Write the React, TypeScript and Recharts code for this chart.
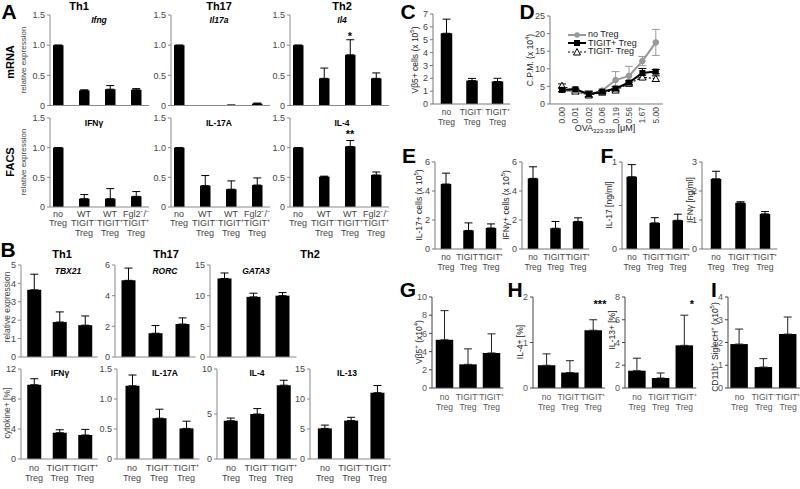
import React from "react";
import { BarChart, Bar, XAxis, YAxis, ErrorBar, LineChart, Line } from "recharts";

const FONT = "'Liberation Sans', Arial, sans-serif";

// categories
const catsA = ["no\nTreg", "WT\nTIGIT⁻\nTreg", "WT\nTIGIT⁺\nTreg", "Fgl2⁻/⁻\nTIGIT⁺\nTreg"];
const catsT = ["no\nTreg", "TIGIT⁻\nTreg", "TIGIT⁺\nTreg"];

// A - mRNA
const ifngMrna = [1.0, 0.25, 0.27, 0.26];
const ifngMrnaErr = [0, 0.01, 0.06, 0.02];
const il17aMrna = [1.0, 0.0, 0.005, 0.03];
const il17aMrnaErr = [0, 0, 0.003, 0.01];
const il4Mrna = [1.0, 0.45, 0.84, 0.45];
const il4MrnaErr = [0, 0.17, 0.25, 0.09];
// A - FACS
const ifngFacs = [1.0, 0.14, 0.14, 0.18];
const ifngFacsErr = [0, 0.07, 0.17, 0.08];
const il17aFacs = [1.0, 0.36, 0.3, 0.37];
const il17aFacsErr = [0, 0.17, 0.14, 0.12];
const il4Facs = [1.0, 0.51, 1.02, 0.54];
const il4FacsErr = [0, 0.01, 0.1, 0.05];

// B - transcription factors
const tbx21 = [3.65, 1.9, 1.73];
const tbx21Err = [0.85, 0.55, 0.5];
const rorc = [5.0, 1.55, 2.15];
const rorcErr = [0.8, 0.5, 0.4];
const gata3 = [12.8, 9.8, 10.0];
const gata3Err = [0.9, 0.6, 0.5];
// B - cytokine+ %
const ifngPct = [9.9, 3.5, 3.2];
const ifngPctErr = [0.8, 0.4, 0.75];
const il17aPct = [1.22, 0.68, 0.51];
const il17aPctErr = [0.18, 0.15, 0.12];
const il4Pct = [4.25, 5.0, 8.2];
const il4PctErr = [0.3, 0.6, 0.55];
const il13Pct = [5.1, 6.4, 11.05];
const il13PctErr = [0.55, 0.55, 1.2];

// C
const vb5Cells = [5.5, 1.82, 1.75];
const vb5CellsErr = [1.1, 0.17, 0.25];

// D
const ovaDoses = ["0.00", "0.01", "0.02", "0.06", "0.19", "0.56", "1.67", "5.00"];
const cpmNoTreg = [4.0, 3.5, 2.8, 3.8, 6.8, 8.0, 12.2, 17.5];
const cpmNoTregErr = [0.6, 0.6, 1.0, 0.4, 2.4, 2.7, 1.3, 3.7];
const cpmTigitPos = [4.0, 4.2, 2.8, 3.5, 4.4, 6.1, 8.8, 9.2];
const cpmTigitPosErr = [0.5, 0.3, 0.8, 0.3, 0.5, 0.5, 1.3, 0.6];
const cpmTigitNeg = [5.2, 3.6, 2.5, 3.3, 3.9, 5.8, 7.6, 7.2];
const cpmTigitNegErr = [0.5, 0.4, 0.5, 0.3, 0.4, 0.4, 0.6, 0.8];

// E
const il17Cells = [4.48, 1.28, 1.45];
const il17CellsErr = [0.75, 0.52, 0.28];
const ifngCells = [4.87, 1.43, 1.9];
const ifngCellsErr = [0.8, 0.47, 0.25];
// F
const il17Conc = [0.83, 0.3, 0.33];
const il17ConcErr = [0.14, 0.06, 0.07];
const ifngConc = [2.42, 1.59, 1.21];
const ifngConcErr = [0.26, 0.04, 0.08];
// G, H, I
const vb5Lung = [5.3, 2.6, 3.85];
const vb5LungErr = [3.2, 1.7, 2.1];
const il4Lung = [0.5, 0.34, 1.27];
const il4LungErr = [0.25, 0.26, 0.23];
const il13Lung = [1.52, 0.88, 3.75];
const il13LungErr = [1.1, 0.44, 2.65];
const pdcCells = [1.93, 0.92, 2.37];
const pdcCellsErr = [0.66, 0.37, 0.75];

const catTick = (dy: number, fs: number, lh: number, color: string) => (props: any) => {
  const { x, y, payload } = props;
  const lines = String(payload.value).split("\n");
  return (
    <text x={x} y={y} textAnchor="middle" fontSize={fs} fill={color} fontFamily={FONT}>
      {lines.map((l, i) => (
        <tspan key={i} x={x} dy={i === 0 ? dy : lh}>
          {l}
        </tspan>
      ))}
    </text>
  );
};

type BP = {
  cats: string[];
  vals: number[];
  errs: number[];
  ax: number;
  c1: number;
  s: number;
  top: number;
  bottom: number;
  max: number;
  ticks: number[];
  fmt?: (v: number) => string;
  labels?: boolean;
  labelDy?: number;
  barW: number;
  axisColor?: string;
  tickColor?: string;
  fs?: number;
  xfs?: number;
  errColor?: string;
};

function BarPanel(p: BP) {
  const YW = 34, MT = 6, MR = 3;
  const n = p.cats.length;
  const right = p.c1 + p.s * (n - 0.5);
  const plotW = right - p.ax;
  const padL = p.c1 - p.s / 2 - p.ax;
  const plotH = p.bottom - p.top;
  const XH = p.labels ? 40 : 7;
  const ac = p.axisColor || "#888";
  const tc = p.tickColor || "#444";
  const fs = p.fs || 9;
  const data = p.cats.map((c, i) => ({ name: c, v: p.vals[i], e: [0, p.errs[i]] }));
  return (
    <div style={{ position: "absolute", left: p.ax - YW, top: p.top - MT }}>
      <BarChart
        width={YW + plotW + MR}
        height={MT + plotH + XH}
        data={data}
        margin={{ top: MT, right: MR, left: 0, bottom: 0 }}
        barCategoryGap={0}
      >
        <XAxis
          dataKey="name"
          height={XH}
          padding={{ left: padL, right: 0 }}
          axisLine={{ stroke: ac }}
          tickLine={false}
          tickSize={0}
          tickMargin={0}
          interval={0}
          tick={p.labels ? catTick(p.labelDy || 10, p.xfs || fs, 9.8, tc) : false}
        />
        <YAxis
          type="number"
          width={YW}
          domain={[0, p.max]}
          ticks={p.ticks}
          interval={0}
          tickFormatter={p.fmt || ((v: number) => String(v))}
          axisLine={{ stroke: ac }}
          tickLine={{ stroke: ac }}
          tickSize={3}
          tickMargin={2}
          tick={{ fill: tc, fontSize: fs, fontFamily: FONT }}
        />
        <Bar dataKey="v" fill="#000" barSize={p.barW} isAnimationActive={false}>
          <ErrorBar dataKey="e" width={4} stroke={p.errColor || "#000"} strokeWidth={1} direction="y" />
        </Bar>
      </BarChart>
    </div>
  );
}

const rotTick = (props: any) => {
  const { x, y, payload } = props;
  return (
    <g transform={`translate(${x},${y})`}>
      <text transform="rotate(-90)" x={-3} y={0} dy={3} textAnchor="end" fontSize={8.5} fill="#444" fontFamily={FONT}>
        {payload.value}
      </text>
    </g>
  );
};

const circleDot = (props: any) => (
  <circle key={props.index} cx={props.cx} cy={props.cy} r={2.8} fill="#999" stroke="#999" />
);
const squareDot = (props: any) => (
  <rect key={props.index} x={props.cx - 3} y={props.cy - 3} width={6} height={6} fill="#000" />
);
const triDot = (props: any) => (
  <path
    key={props.index}
    d={`M${props.cx},${props.cy - 3.5} L${props.cx + 3.5},${props.cy + 2.8} L${props.cx - 3.5},${props.cy + 2.8} Z`}
    fill="#fff"
    stroke="#000"
    strokeWidth={1}
  />
);

function DPanel() {
  const ax = 550, top = 16, bottom = 104, s = 13.4, c1 = 562, n = ovaDoses.length;
  const YW = 34, MT = 6, MR = 3, XH = 26;
  const padL = c1 - ax, padR = 7;
  const right = c1 + s * (n - 1) + padR;
  const data = ovaDoses.map((d, i) => ({
    x: d,
    a: cpmNoTreg[i],
    ae: cpmNoTregErr[i],
    b: cpmTigitPos[i],
    be: cpmTigitPosErr[i],
    c: cpmTigitNeg[i],
    ce: cpmTigitNegErr[i],
  }));
  return (
    <div style={{ position: "absolute", left: ax - YW, top: top - MT }}>
      <LineChart
        width={YW + right - ax + MR}
        height={MT + bottom - top + XH}
        data={data}
        margin={{ top: MT, right: MR, left: 0, bottom: 0 }}
      >
        <XAxis
          dataKey="x"
          height={XH}
          padding={{ left: padL, right: padR }}
          axisLine={{ stroke: "#777" }}
          tickLine={false}
          tickSize={0}
          tickMargin={0}
          interval={0}
          tick={rotTick}
        />
        <YAxis
          type="number"
          width={YW}
          domain={[0, 25]}
          ticks={[0, 5, 10, 15, 20, 25]}
          interval={0}
          axisLine={{ stroke: "#777" }}
          tickLine={{ stroke: "#777" }}
          tickSize={3}
          tickMargin={2}
          tick={{ fill: "#444", fontSize: 9, fontFamily: FONT }}
        />
        <Line dataKey="c" stroke="#000" strokeWidth={1.2} strokeDasharray="2 2" dot={triDot} isAnimationActive={false}>
          <ErrorBar dataKey="ce" width={4} stroke="#000" strokeWidth={1} direction="y" />
        </Line>
        <Line dataKey="a" stroke="#999" strokeWidth={2} dot={circleDot} isAnimationActive={false}>
          <ErrorBar dataKey="ae" width={4} stroke="#999" strokeWidth={1} direction="y" />
        </Line>
        <Line dataKey="b" stroke="#000" strokeWidth={2} dot={squareDot} isAnimationActive={false}>
          <ErrorBar dataKey="be" width={4} stroke="#000" strokeWidth={1} direction="y" />
        </Line>
      </LineChart>
    </div>
  );
}

type TP = {
  x: number;
  y: number;
  s?: number;
  b?: boolean;
  i?: boolean;
  rot?: boolean;
  c?: string;
  children: React.ReactNode;
};

function T({ x, y, s = 9, b = false, i = false, rot = false, c = "#000", children }: TP) {
  return (
    <div
      style={{
        position: "absolute",
        left: x,
        top: y,
        transform: `translate(-50%,-50%)${rot ? " rotate(-90deg)" : ""}`,
        fontSize: s,
        fontWeight: b ? "bold" : "normal",
        fontStyle: i ? "italic" : "normal",
        color: c,
        whiteSpace: "nowrap",
        lineHeight: 1,
      }}
    >
      {children}
    </div>
  );
}

const fmt1 = (v: number) => (v === 0 ? "0" : v.toFixed(1));

function LegendD() {
  const row = (label: string, kind: number, y: number) => (
    <div
      style={{
        position: "absolute",
        left: 0,
        top: y,
        display: "flex",
        alignItems: "center",
        fontSize: 9,
        color: "#222",
        whiteSpace: "nowrap",
        width: 90,
      }}
    >
      <svg width={18} height={8} style={{ flex: "none" }}>
        {kind === 0 && <line x1={0} y1={4} x2={18} y2={4} stroke="#999" strokeWidth={2} />}
        {kind === 0 && <circle cx={9} cy={4} r={2.8} fill="#999" />}
        {kind === 1 && <line x1={0} y1={4} x2={18} y2={4} stroke="#000" strokeWidth={2} />}
        {kind === 1 && <rect x={6} y={1} width={6} height={6} fill="#000" />}
        {kind === 2 && <line x1={0} y1={4} x2={18} y2={4} stroke="#000" strokeWidth={1.2} strokeDasharray="2 2" />}
        {kind === 2 && <path d="M9,0.5 L12.5,7 L5.5,7 Z" fill="#fff" stroke="#000" />}
      </svg>
      <span style={{ marginLeft: 2, lineHeight: 1 }}>{label}</span>
    </div>
  );
  return (
    <div style={{ position: "absolute", left: 568, top: 30, width: 90, height: 26 }}>
      {row("no Treg", 0, 0)}
      {row("TIGIT+ Treg", 1, 8.5)}
      {row("TIGIT- Treg", 2, 17)}
    </div>
  );
}

export default function App() {
  const aTicks = [0, 0.5, 1, 1.5];
  const tA = { labelDy: 9.5, barW: 10.5, s: 26 };
  const tB = { barW: 14 };
  const ghi = { axisColor: "#444", tickColor: "#555", errColor: "#222", labels: true, labelDy: 12, barW: 17.5, top: 297, bottom: 388, xfs: 8.5 };
  const ef = { labels: true, labelDy: 11, barW: 10.5, top: 162, bottom: 249, axisColor: "#777", xfs: 8.5 };
  return (
    <div
      style={{
        position: "absolute",
        left: 0,
        top: 0,
        width: 800,
        height: 489,
        background: "#fff",
        overflow: "hidden",
        fontFamily: FONT,
      }}
    >
      {/* Panel A */}
      <BarPanel cats={catsA} vals={ifngMrna} errs={ifngMrnaErr} ax={50} c1={58} s={26} top={15} bottom={105.5} max={1.5} ticks={aTicks} fmt={fmt1} barW={10.5} />
      <BarPanel cats={catsA} vals={il17aMrna} errs={il17aMrnaErr} ax={171} c1={179} s={26} top={15} bottom={105.5} max={1.5} ticks={aTicks} fmt={fmt1} barW={10.5} />
      <BarPanel cats={catsA} vals={il4Mrna} errs={il4MrnaErr} ax={290} c1={298} s={26} top={15} bottom={105.5} max={1.5} ticks={aTicks} fmt={fmt1} barW={10.5} />
      <BarPanel cats={catsA} vals={ifngFacs} errs={ifngFacsErr} ax={50} c1={58} top={118} bottom={207} max={1.5} ticks={aTicks} fmt={fmt1} labels {...tA} />
      <BarPanel cats={catsA} vals={il17aFacs} errs={il17aFacsErr} ax={171} c1={179} top={118} bottom={207} max={1.5} ticks={aTicks} fmt={fmt1} labels {...tA} />
      <BarPanel cats={catsA} vals={il4Facs} errs={il4FacsErr} ax={290} c1={298} top={118} bottom={207} max={1.5} ticks={aTicks} fmt={fmt1} labels {...tA} />

      {/* Panel B */}
      <BarPanel cats={catsT} vals={tbx21} errs={tbx21Err} ax={21} c1={34} s={25.5} top={265} bottom={357} max={5} ticks={[0, 1, 2, 3, 4, 5]} {...tB} />
      <BarPanel cats={catsT} vals={rorc} errs={rorcErr} ax={115} c1={128} s={27} top={265} bottom={357} max={6} ticks={[0, 2, 4, 6]} {...tB} />
      <BarPanel cats={catsT} vals={gata3} errs={gata3Err} ax={210} c1={224} s={29} top={265} bottom={357} max={15} ticks={[0, 5, 10, 15]} {...tB} />
      <BarPanel cats={catsT} vals={ifngPct} errs={ifngPctErr} ax={21} c1={34} s={25.5} top={369} bottom={459} max={12} ticks={[0, 4, 8, 12]} labels labelDy={12} {...tB} />
      <BarPanel cats={catsT} vals={il17aPct} errs={il17aPctErr} ax={117} c1={132} s={27} top={369} bottom={459} max={1.5} ticks={aTicks} fmt={fmt1} labels labelDy={12} {...tB} />
      <BarPanel cats={catsT} vals={il4Pct} errs={il4PctErr} ax={217} c1={231} s={26.5} top={369} bottom={459} max={10} ticks={[0, 5, 10]} labels labelDy={12} {...tB} />
      <BarPanel cats={catsT} vals={il13Pct} errs={il13PctErr} ax={310} c1={325} s={26.3} top={369} bottom={459} max={15} ticks={[0, 5, 10, 15]} labels labelDy={12} {...tB} />

      {/* Panel C */}
      <BarPanel cats={catsT} vals={vb5Cells} errs={vb5CellsErr} ax={433} c1={446.5} s={25.5} top={14} bottom={104} max={7} ticks={[0, 1, 2, 3, 4, 5, 6, 7]} labels labelDy={11} barW={11.5} axisColor="#777" xfs={8.5} />

      {/* Panel D */}
      <DPanel />
      <LegendD />

      {/* Panel E, F */}
      <BarPanel cats={catsT} vals={il17Cells} errs={il17CellsErr} ax={435} c1={446} s={22.5} max={6} ticks={[0, 2, 4, 6]} {...ef} />
      <BarPanel cats={catsT} vals={ifngCells} errs={ifngCellsErr} ax={522} c1={533} s={22.5} max={6} ticks={[0, 2, 4, 6]} {...ef} />
      <BarPanel cats={catsT} vals={il17Conc} errs={il17ConcErr} ax={622} c1={632} s={23} max={1} ticks={[0, 0.5, 1]} fmt={(v: number) => (v === 0.5 ? "" : String(v))} {...ef} />
      <BarPanel cats={catsT} vals={ifngConc} errs={ifngConcErr} ax={702} c1={716} s={24.5} max={3} ticks={[0, 1, 2, 3]} {...ef} />

      {/* Panel G, H, I */}
      <BarPanel cats={catsT} vals={vb5Lung} errs={vb5LungErr} ax={432} c1={444.5} s={23.5} max={10} ticks={[0, 2, 4, 6, 8, 10]} {...ghi} />
      <BarPanel cats={catsT} vals={il4Lung} errs={il4LungErr} ax={533} c1={546.5} s={23.3} max={2} ticks={[0, 1, 2]} {...ghi} />
      <BarPanel cats={catsT} vals={il13Lung} errs={il13LungErr} ax={625} c1={637} s={23.7} max={8} ticks={[0, 2, 4, 6, 8]} {...ghi} />
      <BarPanel cats={catsT} vals={pdcCells} errs={pdcCellsErr} ax={728} c1={739.5} s={24.3} max={4} ticks={[0, 1, 2, 3, 4]} {...ghi} />

      {/* Panel letters */}
      <T x={9} y={11} s={21} b>A</T>
      <T x={8} y={249} s={21} b>B</T>
      <T x={408} y={11} s={21} b>C</T>
      <T x={527} y={11} s={21} b>D</T>
      <T x={409} y={155} s={21} b>E</T>
      <T x={607} y={155} s={21} b>F</T>
      <T x={408} y={289} s={21} b>G</T>
      <T x={515} y={289} s={21} b>H</T>
      <T x={714} y={289} s={21} b>I</T>

      {/* A texts */}
      <T x={79} y={6} s={11} b>Th1</T>
      <T x={219} y={6} s={11} b>Th17</T>
      <T x={342} y={6} s={11} b>Th2</T>
      <T x={99} y={20} s={8.5} b i>Ifng</T>
      <T x={219} y={20} s={8.5} b i>Il17a</T>
      <T x={342} y={20} s={8.5} b i>Il4</T>
      <T x={94} y={123} s={8.5} b>IFNγ</T>
      <T x={219} y={123} s={8.5} b>IL-17A</T>
      <T x={342} y={123} s={8.5} b>IL-4</T>
      <T x={10} y={62} s={11} b rot>mRNA</T>
      <T x={10} y={162} s={11} b rot>FACS</T>
      <T x={24} y={60} s={8} rot c="#444">relative expression</T>
      <T x={24} y={162} s={8} rot c="#444">relative expression</T>
      <T x={350} y={36} s={11} b>*</T>
      <T x={350} y={134} s={11} b>**</T>

      {/* B texts */}
      <T x={62} y={254} s={11} b>Th1</T>
      <T x={166} y={254} s={11} b>Th17</T>
      <T x={310} y={254} s={11} b>Th2</T>
      <T x={68} y={271} s={8.5} b i>TBX21</T>
      <T x={165} y={271} s={8.5} b i>RORC</T>
      <T x={256} y={271} s={8.5} b i>GATA3</T>
      <T x={60} y={373} s={8.5} b>IFNγ</T>
      <T x={165} y={373} s={8.5} b>IL-17A</T>
      <T x={257} y={373} s={8.5} b>IL-4</T>
      <T x={347} y={373} s={8.5} b>IL-13</T>
      <T x={7} y={307} s={8.5} rot c="#444">relative expression</T>
      <T x={7} y={413} s={8.5} rot c="#444">cytokine+ [%]</T>

      {/* C, D texts */}
      <T x={414} y={60} s={8.5} rot c="#222">Vβ5+ cells (x 10<sup style={{ fontSize: 6 }}>5</sup>)</T>
      <T x={529} y={60} s={8.5} rot c="#222">C.P.M. (x 10<sup style={{ fontSize: 6 }}>4</sup>)</T>
      <T x={605} y={129} s={9} c="#222">OVA<sub style={{ fontSize: 6 }}>323-339</sub> [μM]</T>

      {/* E, F texts */}
      <T x={418} y={205} s={8.5} rot c="#222">IL-17+ cells (x 10<sup style={{ fontSize: 6 }}>5</sup>)</T>
      <T x={505} y={205} s={8.5} rot c="#222">IFNγ+ cells (x 10<sup style={{ fontSize: 6 }}>5</sup>)</T>
      <T x={609} y={205} s={8.5} rot c="#222">IL-17 [ng/ml]</T>
      <T x={690} y={200} s={8.5} rot c="#222">IFNγ [ng/ml]</T>

      {/* G, H, I texts */}
      <T x={418} y={342} s={8.5} rot c="#222">Vβ5<sup style={{ fontSize: 6 }}>+</sup> (x10<sup style={{ fontSize: 6 }}>4</sup>)</T>
      <T x={520} y={342} s={8.5} rot c="#222">IL-4+ [%]</T>
      <T x={612} y={330} s={8.5} rot c="#222">IL-13+ [%]</T>
      <T x={714} y={347} s={8.5} rot c="#222">CD11b<sup style={{ fontSize: 6 }}>+</sup> SiglecH<sup style={{ fontSize: 6 }}>+</sup> (x10<sup style={{ fontSize: 6 }}>5</sup>)</T>
      <T x={600} y={304} s={11} b>***</T>
      <T x={692} y={304} s={11} b>*</T>
    </div>
  );
}
